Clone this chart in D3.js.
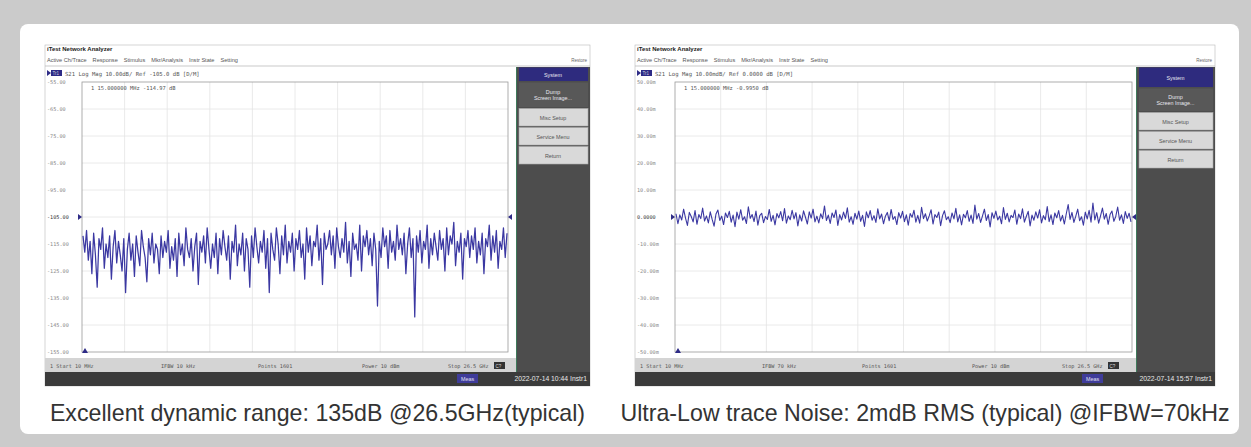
<!DOCTYPE html>
<html>
<head>
<meta charset="utf-8">
<script src="https://cdn.jsdelivr.net/npm/d3@7"></script>
<style>
  body { margin: 0; background: #cbcbcb; }
  svg { display: block; font-family: 'Liberation Sans', Arial, sans-serif; }
</style>
</head>
<body>
<svg id="chart"></svg>
<script>
const width = 1251;
const height = 447;

// left screen: S21 noise floor, dB
const leftTicks = ['-55.00', '-65.00', '-75.00', '-85.00', '-95.00', '-105.00', '-115.00', '-125.00', '-135.00', '-145.00', '-155.00'];
const leftTrace = [
    -112,-118,-110,-121,-114,-126,-111,-119,-131,-113,-117,-109,-124,-115,-120,-112,-128,-116,-110,-122,
    -114,-119,-125,-113,-133,-117,-111,-121,-115,-127,-112,-118,-123,-110,-116,-120,-129,-113,-119,-111,
    -122,-115,-117,-126,-112,-120,-114,-118,-110,-124,-116,-121,-113,-127,-111,-119,-115,-123,-109,-117,
    -120,-113,-125,-116,-111,-130,-114,-118,-112,-122,-109,-117,-124,-115,-120,-111,-126,-113,-119,-110,
    -116,-121,-112,-128,-114,-118,-108,-123,-115,-119,-111,-125,-113,-117,-131,-112,-120,-109,-116,-122,
    -114,-118,-110,-124,-113,-133,-111,-117,-121,-109,-115,-126,-112,-119,-108,-122,-114,-118,-111,-125,
    -113,-117,-110,-120,-115,-128,-109,-118,-112,-123,-114,-116,-108,-121,-113,-130,-111,-117,-115,-110,
    -119,-112,-124,-109,-116,-120,-113,-118,-107,-122,-114,-127,-111,-117,-115,-121,-108,-125,-112,-116,
    -110,-119,-113,-123,-111,-117,-138,-114,-120,-109,-116,-112,-124,-110,-118,-114,-121,-108,-117,-113,
    -119,-111,-126,-115,-109,-120,-113,-142,-112,-118,-110,-122,-114,-117,-108,-124,-113,-119,-111,-116,
    -121,-110,-117,-113,-125,-109,-119,-112,-115,-107,-123,-114,-118,-111,-128,-113,-116,-110,-120,-112,
    -117,-109,-122,-114,-119,-111,-126,-113,-116,-108,-121,-112,-118,-110,-124,-114,-117,-109,-120,-111
];

// right screen: trace noise, mdB
const rightTicks = ['50.00m', '40.00m', '30.00m', '20.00m', '10.00m', '0.0000', '-10.00m', '-20.00m', '-30.00m', '-40.00m', '-50.00m'];
const rightTrace = [
    1.2,-2.5,0.8,-1.1,2.9,-0.4,-3.1,1.7,0.2,-1.8,2.4,-2.7,0.9,-0.6,3.3,-1.5,0.4,-2.2,1.9,-0.9,
    -3.4,1.1,2.6,-1.3,0.3,-2.8,1.5,-0.2,2.1,-1.9,0.7,-3.6,1.8,-0.8,2.7,-1.2,0.1,-2.4,3.8,-0.5,
    0.9,-1.7,2.2,-3.0,0.5,1.4,-2.1,0.2,-0.9,2.8,-1.6,0.6,-2.9,1.3,-0.3,2.0,-1.4,3.1,-2.3,0.4,
    -1.0,2.5,-0.7,1.6,-3.3,0.8,-1.5,2.3,-0.1,-2.6,1.9,-0.4,2.9,-1.8,0.3,-2.2,1.2,-0.6,4.1,-1.3,
    0.7,-2.4,1.5,-0.2,2.6,-3.1,0.9,-1.1,1.8,-0.5,3.4,-1.9,0.1,-2.7,1.4,-0.8,2.2,-1.6,0.6,-3.5,
    1.9,-0.3,2.4,-1.2,0.5,-2.0,3.0,-0.7,1.1,-2.5,0.3,1.7,-1.4,2.8,-0.9,0.2,-2.8,1.6,-0.4,2.1,
    -1.7,0.8,-3.0,1.3,-0.1,2.5,-1.9,0.6,-2.3,3.6,-0.6,1.2,-1.5,0.4,2.7,-2.6,0.9,-0.2,1.8,-3.2,
    0.5,2.3,-1.0,0.1,-2.1,1.5,-0.7,3.2,-1.8,0.8,-2.9,1.0,-0.3,2.4,-1.6,0.7,-2.4,4.4,-0.8,1.3,
    -2.0,0.4,2.9,-1.3,0.9,-3.7,1.6,-0.5,2.2,-1.1,0.3,-2.5,3.5,-0.9,1.4,-1.8,0.6,-0.2,2.6,-2.7,
    1.1,-0.6,3.0,-1.9,0.2,2.1,-3.3,0.7,-1.2,1.9,-0.4,2.7,-2.2,0.5,-1.0,3.9,-1.7,0.8,-2.8,1.5,
    -0.3,2.4,-1.5,0.6,-2.6,1.2,4.6,-0.9,1.7,-2.0,0.3,2.9,-1.4,0.1,-3.0,1.8,-0.7,2.5,-1.9,5.2,
    -1.1,1.6,-2.3,0.4,3.3,-0.8,1.3,-2.7,0.9,2.2,-1.6,0.2,3.7,-1.2,0.8,-2.4,2.0,-0.5,1.4,-1.8
];

const menuItems = ['Active Ch/Trace', 'Response', 'Stimulus', 'Mkr/Analysis', 'Instr State', 'Setting'];
const softKeys = ['System', 'Dump\nScreen Image...', 'Misc Setup', 'Service Menu', 'Return'];

const screens = [
    {
        x: 45, w: 545, plotL: 82, plotR: 508, keyX: 516,
        domain: [-155, -55], ticks: leftTicks, trace: leftTrace, traceW: 1.25,
        header: 'S21  Log Mag  10.00dB/  Ref  -105.0 dB  [D/M]',
        marker: '15.000000 MHz   -114.97 dB',
        status: ['1  Start 10 MHz', 'IFBW 10 kHz', 'Points 1601', 'Power 10 dBm', 'Stop 26.5 GHz'],
        statusX: [50, 161, 258, 362, 448],
        time: '2022-07-14 10:44   Instr1',
        keyH: [15, 26, 19, 19, 19],
        caption: 'Excellent dynamic range: 135dB @26.5GHz(typical)'
    },
    {
        x: 635, w: 580, plotL: 675, plotR: 1132, keyX: 1136,
        domain: [-50, 50], ticks: rightTicks, trace: rightTrace, traceW: 1.1,
        header: 'S21  Log Mag  10.00mdB/  Ref  0.0000 dB  [D/M]',
        marker: '15.000000 MHz   -0.9950 dB',
        status: ['1  Start 10 MHz', 'IFBW 70 kHz', 'Points 1601', 'Power 10 dBm', 'Stop 26.5 GHz'],
        statusX: [640, 762, 862, 972, 1062],
        time: '2022-07-14 15:57   Instr1',
        keyH: [21, 24, 19, 19, 19],
        caption: 'Ultra-Low trace Noise: 2mdB RMS (typical) @IFBW=70kHz'
    }
];

const svg = d3.select('#chart')
    .attr('width', width)
    .attr('height', height);

svg.append('rect').attr('width', width).attr('height', height).attr('fill', '#cbcbcb');
svg.append('rect')
    .attr('x', 20).attr('y', 24)
    .attr('width', 1219).attr('height', 410)
    .attr('rx', 8)
    .attr('fill', '#fff');

const scrTop = 45, scrBottom = 386;
const plotT = 82, plotB = 352;

const drawScreen = s => {
    const g = svg.append('g');
    const right = s.x + s.w;

    g.append('rect').attr('x', s.x).attr('y', scrTop).attr('width', s.w).attr('height', scrBottom - scrTop)
        .attr('fill', '#fff').attr('stroke', '#b8b8b8').attr('stroke-width', 0.6);

    // title + menu
    g.append('text').attr('x', s.x + 2).attr('y', scrTop + 6).attr('font-size', 6)
        .attr('font-weight', 'bold').attr('fill', '#222').text('iTest Network Analyzer');
    let mx = s.x + 2;
    menuItems.forEach(m => {
        const t = g.append('text').attr('x', mx).attr('y', scrTop + 17).attr('font-size', 5.6)
            .attr('fill', '#555').text(m);
        mx += t.node().getComputedTextLength() + 6;
    });
    g.append('text').attr('x', right - 3).attr('y', scrTop + 17).attr('font-size', 4.5)
        .attr('text-anchor', 'end').attr('fill', '#666').text('Restore');
    g.append('line').attr('x1', s.x).attr('x2', right).attr('y1', scrTop + 21).attr('y2', scrTop + 21)
        .attr('stroke', '#bbb').attr('stroke-width', 0.8);

    // trace header
    g.append('path').attr('d', `M${s.x + 2},${scrTop + 25}l4,3l-4,3z`).attr('fill', '#2e2b86');
    g.append('rect').attr('x', s.x + 6).attr('y', scrTop + 25).attr('width', 11).attr('height', 6).attr('fill', '#2e2b86');
    g.append('text').attr('x', s.x + 7.5).attr('y', scrTop + 30).attr('font-size', 4.5).attr('fill', '#ccd').text('Tr1');
    g.append('text').attr('x', s.x + 20).attr('y', scrTop + 30.5).attr('font-size', 5.6)
        .attr('font-family', 'DejaVu Sans Mono, monospace').attr('fill', '#555').text(s.header);

    // plot
    const y = d3.scaleLinear().domain(s.domain).range([plotB, plotT]);
    const x = d3.scaleLinear().domain([0, s.trace.length - 1]).range([s.plotL + 1, s.plotR - 1]);
    const gx = d3.scaleLinear().domain([0, 10]).range([s.plotL, s.plotR]);
    const gy = d3.scaleLinear().domain([0, 10]).range([plotT, plotB]);

    g.append('g').selectAll('line').data(d3.range(1, 10)).join('line')
        .attr('x1', d => gx(d)).attr('x2', d => gx(d)).attr('y1', plotT).attr('y2', plotB)
        .attr('stroke', '#e4e4e4').attr('stroke-width', 0.8);
    g.append('g').selectAll('line').data(d3.range(1, 10)).join('line')
        .attr('y1', d => gy(d)).attr('y2', d => gy(d)).attr('x1', s.plotL).attr('x2', s.plotR)
        .attr('stroke', '#e4e4e4').attr('stroke-width', 0.8);
    g.append('rect').attr('x', s.plotL).attr('y', plotT).attr('width', s.plotR - s.plotL).attr('height', plotB - plotT)
        .attr('fill', 'none').attr('stroke', '#9a9a9a').attr('stroke-width', 0.8);

    g.append('g').selectAll('text').data(s.ticks).join('text')
        .attr('x', s.x + 2).attr('y', (d, i) => gy(i) + 2)
        .attr('font-size', 5.2).attr('fill', (d, i) => i === 5 ? '#333' : '#888')
        .attr('font-family', 'DejaVu Sans Mono, monospace')
        .text(d => d);

    g.append('text').attr('x', s.plotL + 9).attr('y', plotT + 8).attr('font-size', 5.4)
        .attr('font-family', 'DejaVu Sans Mono, monospace').attr('fill', '#555')
        .text('1   ' + s.marker);

    const line = d3.line().x((d, i) => x(i)).y(d => y(d));
    g.append('path').datum(s.trace).attr('d', line)
        .attr('fill', 'none').attr('stroke', '#3b38a2').attr('stroke-width', s.traceW).attr('stroke-linejoin', 'round');

    // reference markers
    const ry = y((s.domain[0] + s.domain[1]) / 2);
    g.append('path').attr('d', `M${s.plotL - 4},${ry - 3}l4,3l-4,3z`).attr('fill', '#2e2b86');
    g.append('path').attr('d', `M${s.plotR + 4},${ry - 3}l-4,3l4,3z`).attr('fill', '#2e2b86');
    g.append('path').attr('d', `M${s.plotL},${plotB + 1}l3,-5l3,5z`).attr('fill', '#2e2b86');

    // soft keys
    g.append('rect').attr('x', s.keyX).attr('y', scrTop + 22).attr('width', right - s.keyX).attr('height', scrBottom - scrTop - 22)
        .attr('fill', '#4d4d4d');
    g.append('line').attr('x1', s.keyX + 0.5).attr('x2', s.keyX + 0.5).attr('y1', scrTop + 22).attr('y2', scrBottom - 14)
        .attr('stroke', '#3e7a5a').attr('stroke-width', 1);
    let ky = scrTop + 22;
    softKeys.forEach((k, i) => {
        const h = s.keyH[i];
        const fill = i === 0 ? '#2e2b7e' : i === 1 ? '#585858' : '#d9d9d9';
        g.append('rect').attr('x', s.keyX + 3).attr('y', ky + 0.5).attr('width', right - s.keyX - 5).attr('height', h - 1.5)
            .attr('fill', fill).attr('stroke', i > 1 ? '#aaa' : 'none').attr('stroke-width', 0.6);
        const lines = k.split('\n');
        lines.forEach((l, j) => {
            g.append('text').attr('x', (s.keyX + right) / 2).attr('y', ky + h / 2 + 2 + (j - (lines.length - 1) / 2) * 6)
                .attr('text-anchor', 'middle').attr('font-size', 5.4)
                .attr('fill', i < 2 ? '#e8e8f0' : '#555').text(l);
        });
        ky += h;
    });

    // status bar
    g.append('rect').attr('x', s.x).attr('y', plotB + 6).attr('width', s.keyX - s.x).attr('height', 14).attr('fill', '#d4d4d4');
    s.status.forEach((t, i) => {
        g.append('text').attr('x', s.statusX[i]).attr('y', plotB + 15.5).attr('font-size', 5.2)
            .attr('font-family', 'DejaVu Sans Mono, monospace').attr('fill', '#555').text(t);
    });
    const sx = s.statusX[4] + 46;
    g.append('rect').attr('x', sx).attr('y', plotB + 10).attr('width', 11).attr('height', 7).attr('fill', '#333');
    g.append('text').attr('x', sx + 1.5).attr('y', plotB + 15.5).attr('font-size', 4.5).attr('fill', '#ddd').text('C?');

    // bottom bar
    g.append('rect').attr('x', s.x).attr('y', scrBottom - 14).attr('width', s.w).attr('height', 14).attr('fill', '#3b3b3b');
    g.append('rect').attr('x', right - 133).attr('y', scrBottom - 12).attr('width', 21).attr('height', 9).attr('fill', '#3f3c9a');
    g.append('text').attr('x', right - 122.5).attr('y', scrBottom - 5.5).attr('text-anchor', 'middle')
        .attr('font-size', 5.4).attr('fill', '#e0e0f0').text('Meas');
    g.append('text').attr('x', right - 3).attr('y', scrBottom - 5).attr('text-anchor', 'end')
        .attr('font-size', 6.8).attr('fill', '#e8e8e8').text(s.time);

    // caption
    svg.append('text').attr('x', s.x + s.w / 2).attr('y', 421).attr('text-anchor', 'middle')
        .attr('font-size', 23.2).attr('fill', '#333').text(s.caption);
};

screens.forEach(drawScreen);
</script>
</body>
</html>
